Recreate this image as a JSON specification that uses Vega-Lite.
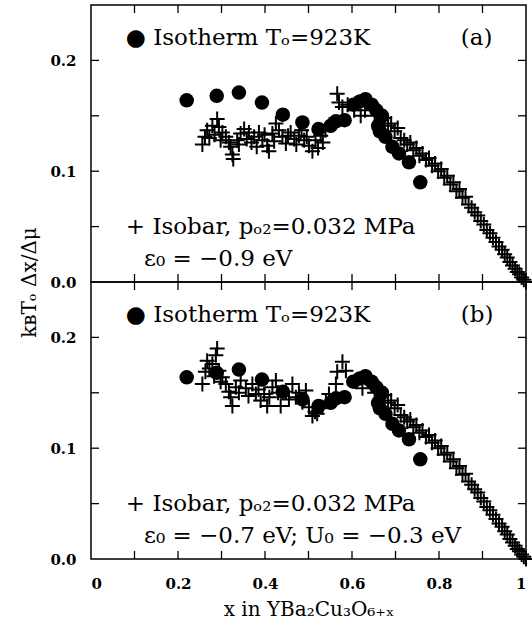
{
  "$schema": "https://vega.github.io/schema/vega-lite/v6.json",
  "background": "white",
  "padding": {"left": 18, "top": 1, "right": 3, "bottom": 5},
  "bounds": "flush",
  "spacing": 0,
  "config": {
    "view": {"stroke": "black", "strokeWidth": 1.5},
    "axis": {"domain": false, "ticks": false, "grid": false,
      "labelFont": "DejaVu Serif", "labelFontWeight": "bold", "labelFontSize": 15, "labelColor": "black",
      "titleFont": "DejaVu Serif", "titleFontWeight": "normal", "titleFontSize": 20, "titleColor": "black"},
    "text": {"font": "DejaVu Serif", "fontSize": 23, "color": "black"}
  },
  "datasets": {
    "ticksX": [{"v":0.1},{"v":0.2},{"v":0.3},{"v":0.4},{"v":0.5},{"v":0.6},{"v":0.7},{"v":0.8},{"v":0.9}],
    "ticksY": [{"v":0.05},{"v":0.1},{"v":0.15},{"v":0.2}],
    "isotherm": [
      {"x":0.220,"y":0.164},{"x":0.289,"y":0.168},{"x":0.340,"y":0.171},{"x":0.393,"y":0.162},{"x":0.441,"y":0.151},
      {"x":0.486,"y":0.144},{"x":0.523,"y":0.138},{"x":0.551,"y":0.141},{"x":0.563,"y":0.145},{"x":0.583,"y":0.146},
      {"x":0.603,"y":0.160},{"x":0.618,"y":0.163},{"x":0.631,"y":0.165},{"x":0.645,"y":0.160},{"x":0.656,"y":0.155},
      {"x":0.669,"y":0.150},{"x":0.660,"y":0.141},{"x":0.664,"y":0.136},{"x":0.677,"y":0.131},{"x":0.693,"y":0.122},
      {"x":0.708,"y":0.116},{"x":0.731,"y":0.108},{"x":0.757,"y":0.090}
    ],
    "isobarA": [
      {"x":0.256,"y":0.124},{"x":0.267,"y":0.137},{"x":0.272,"y":0.130},{"x":0.279,"y":0.141},{"x":0.290,"y":0.147},
      {"x":0.294,"y":0.140},{"x":0.302,"y":0.135},{"x":0.310,"y":0.131},{"x":0.317,"y":0.126},{"x":0.325,"y":0.115},
      {"x":0.327,"y":0.111},{"x":0.336,"y":0.128},{"x":0.344,"y":0.134},{"x":0.352,"y":0.138},{"x":0.363,"y":0.135},
      {"x":0.375,"y":0.131},{"x":0.386,"y":0.135},{"x":0.394,"y":0.128},{"x":0.405,"y":0.123},{"x":0.409,"y":0.118},
      {"x":0.417,"y":0.134},{"x":0.425,"y":0.143},{"x":0.432,"y":0.137},{"x":0.440,"y":0.131},{"x":0.448,"y":0.125},
      {"x":0.459,"y":0.135},{"x":0.467,"y":0.129},{"x":0.478,"y":0.132},{"x":0.490,"y":0.128},{"x":0.501,"y":0.123},
      {"x":0.509,"y":0.118},{"x":0.516,"y":0.128},{"x":0.528,"y":0.132},{"x":0.539,"y":0.137},{"x":0.548,"y":0.142},
      {"x":0.262,"y":0.131},{"x":0.284,"y":0.133},{"x":0.298,"y":0.128},{"x":0.321,"y":0.122},{"x":0.340,"y":0.124},
      {"x":0.358,"y":0.129},{"x":0.369,"y":0.126},{"x":0.381,"y":0.122},{"x":0.399,"y":0.133},{"x":0.421,"y":0.127},
      {"x":0.453,"y":0.132},{"x":0.472,"y":0.124},{"x":0.484,"y":0.137},{"x":0.496,"y":0.131},{"x":0.522,"y":0.121},
      {"x":0.533,"y":0.126},
      {"x":0.566,"y":0.170},{"x":0.570,"y":0.162},{"x":0.578,"y":0.158},{"x":0.590,"y":0.160},{"x":0.605,"y":0.155},
      {"x":0.620,"y":0.150},{"x":0.630,"y":0.155},
      {"x":0.645,"y":0.158},{"x":0.652,"y":0.150},{"x":0.660,"y":0.155},{"x":0.668,"y":0.146},{"x":0.675,"y":0.148},
      {"x":0.683,"y":0.141},{"x":0.690,"y":0.143},{"x":0.698,"y":0.136},{"x":0.705,"y":0.139},{"x":0.712,"y":0.130},
      {"x":0.720,"y":0.128},{"x":0.727,"y":0.124},{"x":0.734,"y":0.126},{"x":0.741,"y":0.119},{"x":0.748,"y":0.121},
      {"x":0.755,"y":0.114},{"x":0.762,"y":0.116},{"x":0.770,"y":0.110},{"x":0.777,"y":0.112},{"x":0.784,"y":0.105},
      {"x":0.791,"y":0.107},{"x":0.798,"y":0.100},{"x":0.805,"y":0.102},{"x":0.812,"y":0.094},{"x":0.819,"y":0.096},
      {"x":0.826,"y":0.088},{"x":0.833,"y":0.090},{"x":0.840,"y":0.082},{"x":0.847,"y":0.084},{"x":0.854,"y":0.076},
      {"x":0.861,"y":0.077},{"x":0.868,"y":0.070},{"x":0.875,"y":0.067},{"x":0.882,"y":0.063},{"x":0.889,"y":0.060},
      {"x":0.896,"y":0.055},{"x":0.903,"y":0.052},{"x":0.910,"y":0.047},{"x":0.917,"y":0.044},{"x":0.924,"y":0.040},
      {"x":0.931,"y":0.036},{"x":0.938,"y":0.032},{"x":0.945,"y":0.029},{"x":0.951,"y":0.025},{"x":0.957,"y":0.022},
      {"x":0.963,"y":0.018},{"x":0.969,"y":0.015},{"x":0.975,"y":0.012},{"x":0.980,"y":0.009},{"x":0.985,"y":0.007},
      {"x":0.990,"y":0.004},{"x":0.995,"y":0.002},{"x":1.000,"y":0.000}
    ],
    "isobarB": [
      {"x":0.256,"y":0.158},{"x":0.263,"y":0.169},{"x":0.267,"y":0.179},{"x":0.279,"y":0.176},{"x":0.290,"y":0.190},
      {"x":0.287,"y":0.184},{"x":0.294,"y":0.170},{"x":0.302,"y":0.164},{"x":0.310,"y":0.158},{"x":0.317,"y":0.151},
      {"x":0.325,"y":0.138},{"x":0.333,"y":0.155},{"x":0.344,"y":0.161},{"x":0.356,"y":0.154},{"x":0.371,"y":0.158},
      {"x":0.379,"y":0.149},{"x":0.390,"y":0.143},{"x":0.398,"y":0.149},{"x":0.405,"y":0.138},{"x":0.417,"y":0.155},
      {"x":0.425,"y":0.161},{"x":0.436,"y":0.138},{"x":0.448,"y":0.151},{"x":0.463,"y":0.158},{"x":0.471,"y":0.146},
      {"x":0.486,"y":0.1415},{"x":0.494,"y":0.152},{"x":0.501,"y":0.137},{"x":0.509,"y":0.129},{"x":0.520,"y":0.131},
      {"x":0.532,"y":0.137},{"x":0.547,"y":0.149},{"x":0.563,"y":0.158},{"x":0.566,"y":0.169},{"x":0.578,"y":0.178},
      {"x":0.586,"y":0.170},{"x":0.609,"y":0.161},{"x":0.624,"y":0.154},
      {"x":0.272,"y":0.172},{"x":0.283,"y":0.165},{"x":0.298,"y":0.160},{"x":0.321,"y":0.146},{"x":0.340,"y":0.150},
      {"x":0.362,"y":0.147},{"x":0.385,"y":0.153},{"x":0.410,"y":0.146},{"x":0.430,"y":0.150},{"x":0.455,"y":0.144},
      {"x":0.478,"y":0.150},{"x":0.515,"y":0.133},{"x":0.540,"y":0.142},
      {"x":0.645,"y":0.158},{"x":0.652,"y":0.150},{"x":0.660,"y":0.155},{"x":0.668,"y":0.146},{"x":0.675,"y":0.148},
      {"x":0.683,"y":0.141},{"x":0.690,"y":0.143},{"x":0.698,"y":0.136},{"x":0.705,"y":0.139},{"x":0.712,"y":0.130},
      {"x":0.720,"y":0.128},{"x":0.727,"y":0.124},{"x":0.734,"y":0.126},{"x":0.741,"y":0.119},{"x":0.748,"y":0.121},
      {"x":0.755,"y":0.114},{"x":0.762,"y":0.116},{"x":0.770,"y":0.110},{"x":0.777,"y":0.112},{"x":0.784,"y":0.105},
      {"x":0.791,"y":0.107},{"x":0.798,"y":0.100},{"x":0.805,"y":0.102},{"x":0.812,"y":0.094},{"x":0.819,"y":0.096},
      {"x":0.826,"y":0.088},{"x":0.833,"y":0.090},{"x":0.840,"y":0.082},{"x":0.847,"y":0.084},{"x":0.854,"y":0.076},
      {"x":0.861,"y":0.077},{"x":0.868,"y":0.070},{"x":0.875,"y":0.067},{"x":0.882,"y":0.063},{"x":0.889,"y":0.060},
      {"x":0.896,"y":0.055},{"x":0.903,"y":0.052},{"x":0.910,"y":0.047},{"x":0.917,"y":0.044},{"x":0.924,"y":0.040},
      {"x":0.931,"y":0.036},{"x":0.938,"y":0.032},{"x":0.945,"y":0.029},{"x":0.951,"y":0.025},{"x":0.957,"y":0.022},
      {"x":0.963,"y":0.018},{"x":0.969,"y":0.015},{"x":0.975,"y":0.012},{"x":0.980,"y":0.009},{"x":0.985,"y":0.007},
      {"x":0.990,"y":0.004},{"x":0.995,"y":0.002},{"x":1.000,"y":0.000}
    ],
    "labels": [
      {"panel":"a","x":0.08,"y":0.22,"text":"● Isotherm Tₒ=923K"},
      {"panel":"a","x":0.85,"y":0.22,"text":"(a)"},
      {"panel":"a","x":0.08,"y":0.05,"text":"+ Isobar, pₒ₂=0.032 MPa"},
      {"panel":"a","x":0.122,"y":0.021,"text":"ε₀ = −0.9 eV"},
      {"panel":"b","x":0.08,"y":0.22,"text":"● Isotherm Tₒ=923K"},
      {"panel":"b","x":0.85,"y":0.22,"text":"(b)"},
      {"panel":"b","x":0.08,"y":0.05,"text":"+ Isobar, pₒ₂=0.032 MPa"},
      {"panel":"b","x":0.122,"y":0.021,"text":"ε₀ = −0.7 eV; U₀ = −0.3 eV"}
    ]
  },
  "vconcat": [
    {
      "width": 435, "height": 277,
      "layer": [
        {"data": {"name": "ticksX"},
         "mark": {"type": "point", "shape": "M0,0V-1", "filled": false, "size": 256, "stroke": "black", "strokeWidth": 1.3, "opacity": 1},
         "encoding": {
           "x": {"field": "v", "type": "quantitative", "scale": {"domain": [0, 1], "nice": false, "zero": false}, "axis": null},
           "y": {"datum": 0, "type": "quantitative", "scale": {"domain": [0, 0.25], "nice": false},
                 "axis": {"values": [0,0.1,0.2], "format": ".1f", "labelPadding": 15, "title": "kʙTₒ Δx/Δμ", "titleX": -62, "titleY": 277, "titleBaseline": "middle", "titleAlign": "center", "titleAngle": -90}}
         }},
        {"data": {"name": "ticksX"},
         "mark": {"type": "point", "shape": "M0,0V1", "filled": false, "size": 256, "stroke": "black", "strokeWidth": 1.3, "opacity": 1},
         "encoding": {
           "x": {"field": "v", "type": "quantitative", "scale": {"domain": [0, 1], "nice": false, "zero": false}, "axis": null},
           "y": {"datum": 0.25, "type": "quantitative", "scale": {"domain": [0, 0.25], "nice": false},
                 "axis": {"values": [0,0.1,0.2], "format": ".1f", "labelPadding": 15, "title": "kʙTₒ Δx/Δμ", "titleX": -62, "titleY": 277, "titleBaseline": "middle", "titleAlign": "center", "titleAngle": -90}}
         }},
        {"data": {"name": "ticksY"},
         "mark": {"type": "point", "shape": "M0,0H1", "filled": false, "size": 256, "stroke": "black", "strokeWidth": 1.3, "opacity": 1},
         "encoding": {
           "x": {"datum": 0, "type": "quantitative", "scale": {"domain": [0, 1], "nice": false, "zero": false}, "axis": null},
           "y": {"field": "v", "type": "quantitative", "scale": {"domain": [0, 0.25], "nice": false},
                 "axis": {"values": [0,0.1,0.2], "format": ".1f", "labelPadding": 15, "title": "kʙTₒ Δx/Δμ", "titleX": -62, "titleY": 277, "titleBaseline": "middle", "titleAlign": "center", "titleAngle": -90}}
         }},
        {"data": {"name": "ticksY"},
         "mark": {"type": "point", "shape": "M0,0H-1", "filled": false, "size": 256, "stroke": "black", "strokeWidth": 1.3, "opacity": 1},
         "encoding": {
           "x": {"datum": 1, "type": "quantitative", "scale": {"domain": [0, 1], "nice": false, "zero": false}, "axis": null},
           "y": {"field": "v", "type": "quantitative", "scale": {"domain": [0, 0.25], "nice": false},
                 "axis": {"values": [0,0.1,0.2], "format": ".1f", "labelPadding": 15, "title": "kʙTₒ Δx/Δμ", "titleX": -62, "titleY": 277, "titleBaseline": "middle", "titleAlign": "center", "titleAngle": -90}}
         }},
        {"data": {"name": "isotherm"},
         "mark": {"type": "point", "shape": "circle", "filled": true, "size": 210, "color": "black", "opacity": 1, "strokeWidth": 0},
         "encoding": {
           "x": {"field": "x", "type": "quantitative", "scale": {"domain": [0, 1], "nice": false, "zero": false}, "axis": null},
           "y": {"field": "y", "type": "quantitative", "scale": {"domain": [0, 0.25], "nice": false},
                 "axis": {"values": [0,0.1,0.2], "format": ".1f", "labelPadding": 15, "title": "kʙTₒ Δx/Δμ", "titleX": -62, "titleY": 277, "titleBaseline": "middle", "titleAlign": "center", "titleAngle": -90}}
         }},
        {"data": {"name": "isobarA"},
         "mark": {"type": "point", "shape": "M-1,0H1M0,-1V1", "filled": false, "size": 225, "stroke": "black", "strokeWidth": 2, "opacity": 1},
         "encoding": {
           "x": {"field": "x", "type": "quantitative", "scale": {"domain": [0, 1], "nice": false, "zero": false}, "axis": null},
           "y": {"field": "y", "type": "quantitative", "scale": {"domain": [0, 0.25], "nice": false},
                 "axis": {"values": [0,0.1,0.2], "format": ".1f", "labelPadding": 15, "title": "kʙTₒ Δx/Δμ", "titleX": -62, "titleY": 277, "titleBaseline": "middle", "titleAlign": "center", "titleAngle": -90}}
         }},
        {"data": {"name": "labels"},
         "transform": [{"filter": "datum.panel === 'a'"}],
         "mark": {"type": "text", "align": "left", "baseline": "middle"},
         "encoding": {
           "x": {"field": "x", "type": "quantitative", "scale": {"domain": [0, 1], "nice": false, "zero": false}, "axis": null},
           "y": {"field": "y", "type": "quantitative", "scale": {"domain": [0, 0.25], "nice": false},
                 "axis": {"values": [0,0.1,0.2], "format": ".1f", "labelPadding": 15, "title": "kʙTₒ Δx/Δμ", "titleX": -62, "titleY": 277, "titleBaseline": "middle", "titleAlign": "center", "titleAngle": -90}},
           "text": {"field": "text", "type": "nominal"}
         }}
      ]
    },
    {
      "width": 435, "height": 277,
      "layer": [
        {"data": {"name": "ticksX"},
         "mark": {"type": "point", "shape": "M0,0V-1", "filled": false, "size": 256, "stroke": "black", "strokeWidth": 1.3, "opacity": 1},
         "encoding": {
           "x": {"field": "v", "type": "quantitative", "scale": {"domain": [0, 1], "nice": false, "zero": false},
                 "axis": {"values": [0,0.2,0.4,0.6,0.8,1], "format": "~g", "labelPadding": 17, "title": "x in YBa₂Cu₃O₆₊ₓ", "titlePadding": 8}},
           "y": {"datum": 0, "type": "quantitative", "scale": {"domain": [0, 0.25], "nice": false},
                 "axis": {"values": [0,0.1,0.2], "format": ".1f", "labelPadding": 15, "title": null}}
         }},
        {"data": {"name": "ticksX"},
         "mark": {"type": "point", "shape": "M0,0V1", "filled": false, "size": 256, "stroke": "black", "strokeWidth": 1.3, "opacity": 1},
         "encoding": {
           "x": {"field": "v", "type": "quantitative", "scale": {"domain": [0, 1], "nice": false, "zero": false},
                 "axis": {"values": [0,0.2,0.4,0.6,0.8,1], "format": "~g", "labelPadding": 17, "title": "x in YBa₂Cu₃O₆₊ₓ", "titlePadding": 8}},
           "y": {"datum": 0.25, "type": "quantitative", "scale": {"domain": [0, 0.25], "nice": false},
                 "axis": {"values": [0,0.1,0.2], "format": ".1f", "labelPadding": 15, "title": null}}
         }},
        {"data": {"name": "ticksY"},
         "mark": {"type": "point", "shape": "M0,0H1", "filled": false, "size": 256, "stroke": "black", "strokeWidth": 1.3, "opacity": 1},
         "encoding": {
           "x": {"datum": 0, "type": "quantitative", "scale": {"domain": [0, 1], "nice": false, "zero": false},
                 "axis": {"values": [0,0.2,0.4,0.6,0.8,1], "format": "~g", "labelPadding": 17, "title": "x in YBa₂Cu₃O₆₊ₓ", "titlePadding": 8}},
           "y": {"field": "v", "type": "quantitative", "scale": {"domain": [0, 0.25], "nice": false},
                 "axis": {"values": [0,0.1,0.2], "format": ".1f", "labelPadding": 15, "title": null}}
         }},
        {"data": {"name": "ticksY"},
         "mark": {"type": "point", "shape": "M0,0H-1", "filled": false, "size": 256, "stroke": "black", "strokeWidth": 1.3, "opacity": 1},
         "encoding": {
           "x": {"datum": 1, "type": "quantitative", "scale": {"domain": [0, 1], "nice": false, "zero": false},
                 "axis": {"values": [0,0.2,0.4,0.6,0.8,1], "format": "~g", "labelPadding": 17, "title": "x in YBa₂Cu₃O₆₊ₓ", "titlePadding": 8}},
           "y": {"field": "v", "type": "quantitative", "scale": {"domain": [0, 0.25], "nice": false},
                 "axis": {"values": [0,0.1,0.2], "format": ".1f", "labelPadding": 15, "title": null}}
         }},
        {"data": {"name": "isotherm"},
         "mark": {"type": "point", "shape": "circle", "filled": true, "size": 210, "color": "black", "opacity": 1, "strokeWidth": 0},
         "encoding": {
           "x": {"field": "x", "type": "quantitative", "scale": {"domain": [0, 1], "nice": false, "zero": false},
                 "axis": {"values": [0,0.2,0.4,0.6,0.8,1], "format": "~g", "labelPadding": 17, "title": "x in YBa₂Cu₃O₆₊ₓ", "titlePadding": 8}},
           "y": {"field": "y", "type": "quantitative", "scale": {"domain": [0, 0.25], "nice": false},
                 "axis": {"values": [0,0.1,0.2], "format": ".1f", "labelPadding": 15, "title": null}}
         }},
        {"data": {"name": "isobarB"},
         "mark": {"type": "point", "shape": "M-1,0H1M0,-1V1", "filled": false, "size": 225, "stroke": "black", "strokeWidth": 2, "opacity": 1},
         "encoding": {
           "x": {"field": "x", "type": "quantitative", "scale": {"domain": [0, 1], "nice": false, "zero": false},
                 "axis": {"values": [0,0.2,0.4,0.6,0.8,1], "format": "~g", "labelPadding": 17, "title": "x in YBa₂Cu₃O₆₊ₓ", "titlePadding": 8}},
           "y": {"field": "y", "type": "quantitative", "scale": {"domain": [0, 0.25], "nice": false},
                 "axis": {"values": [0,0.1,0.2], "format": ".1f", "labelPadding": 15, "title": null}}
         }},
        {"data": {"name": "labels"},
         "transform": [{"filter": "datum.panel === 'b'"}],
         "mark": {"type": "text", "align": "left", "baseline": "middle"},
         "encoding": {
           "x": {"field": "x", "type": "quantitative", "scale": {"domain": [0, 1], "nice": false, "zero": false},
                 "axis": {"values": [0,0.2,0.4,0.6,0.8,1], "format": "~g", "labelPadding": 17, "title": "x in YBa₂Cu₃O₆₊ₓ", "titlePadding": 8}},
           "y": {"field": "y", "type": "quantitative", "scale": {"domain": [0, 0.25], "nice": false},
                 "axis": {"values": [0,0.1,0.2], "format": ".1f", "labelPadding": 15, "title": null}},
           "text": {"field": "text", "type": "nominal"}
         }}
      ]
    }
  ]
}
